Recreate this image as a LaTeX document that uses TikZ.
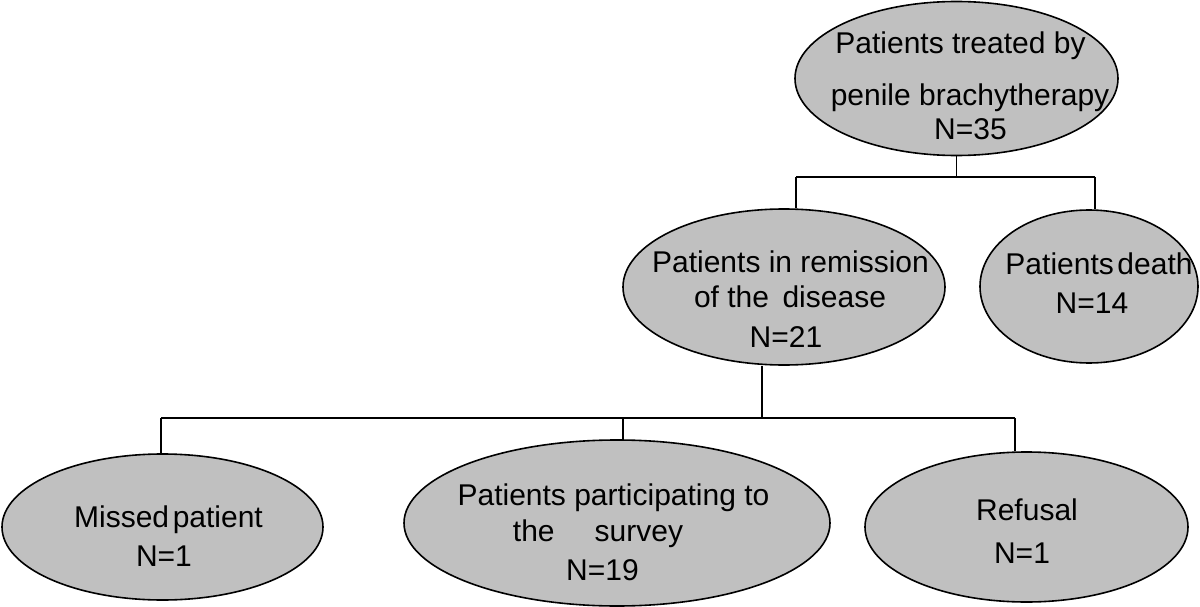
\documentclass[tikz,border=0pt]{standalone}
\usepackage{fontspec}
\setmainfont{Liberation Sans}
\usetikzlibrary{shapes.geometric}
\definecolor{boxgray}{RGB}{192,192,192}
% text block: first baseline raised by #1 above the node centre, lines in a centred column
\newcommand{\ovtxt}[2]{\makebox[0pt]{\raisebox{#1}[0pt][0pt]{\begin{tabular}[t]{@{}c@{}}#2\end{tabular}}}}
\begin{document}
\begin{tikzpicture}[x=1pt,y=-1pt,
  oval/.style={ellipse, draw=black, line width=1.6pt, fill=boxgray, inner sep=0pt,
    font=\fontsize{30}{30}\selectfont},
  link/.style={line width=1.4pt, draw=black}]
\useasboundingbox (0,0) rectangle (1200,607);
% nodes
\node[oval, minimum width=323pt, minimum height=154pt] (top) at (956.5,78.5)
  {\ovtxt{24.5pt}{\hspace*{8pt}Patients treated by\\[21pt]
    \hspace*{27pt}penile brachytherapy\\[4pt] \hspace*{28pt}N=35}};
\node[oval, minimum width=322pt, minimum height=156pt] (mid) at (784,287)
  {\ovtxt{15pt}{\hspace*{13pt}Patients in remission\\[5pt]
    \hspace*{12pt}of the\hspace{0.45em}disease\\[10pt] \hspace*{4pt}N=21}};
\node[oval, minimum width=218pt, minimum height=153pt] (death) at (1089,286.5)
  {\ovtxt{12.5pt}{\hspace*{20pt}Patients\hspace{0.12em}death\\[9pt] \hspace*{6pt}N=14}};
\node[oval, minimum width=321pt, minimum height=146pt] (miss) at (162.5,527)
  {\ovtxt{0pt}{\hspace*{12pt}Missed\hspace{0.12em}patient\\[9pt] \hspace*{3pt}N=1}};
\node[oval, minimum width=426pt, minimum height=166pt] (surv) at (617,523)
  {\ovtxt{18pt}{\hspace*{-7pt}Patients participating to\\[6pt]
    \hspace*{-38pt}the\hspace{40pt}survey\\[9pt] \hspace*{-29pt}N=19}};
\node[oval, minimum width=323pt, minimum height=150pt] (ref) at (1026.5,527)
  {\ovtxt{7pt}{\hspace*{1pt}Refusal\\[13pt] \hspace*{-9pt}N=1}};
% junction coordinates
\coordinate (a1) at (796,177);
\coordinate (a2) at (1095,177);
\coordinate (b0) at (762,418);
\coordinate (b1) at (161,418);
\coordinate (b2) at (623,418);
\coordinate (b3) at (1015,418);
% connectors
\draw[link] (top.south) -- (top.south |- a1);
\draw[link] (a1) -- (a2);
\draw[link] (a1) -- (a1 |- mid.north);
\draw[link] (a2) -- (a2 |- death.north);
\draw[link] (b0 |- mid.south) -- (b0);
\draw[link] (b1) -- (b3);
\draw[link] (b1) -- (b1 |- miss.north);
\draw[link] (b2) -- (b2 |- surv.north);
\draw[link] (b3) -- (b3 |- ref.north);
\end{tikzpicture}
\end{document}
